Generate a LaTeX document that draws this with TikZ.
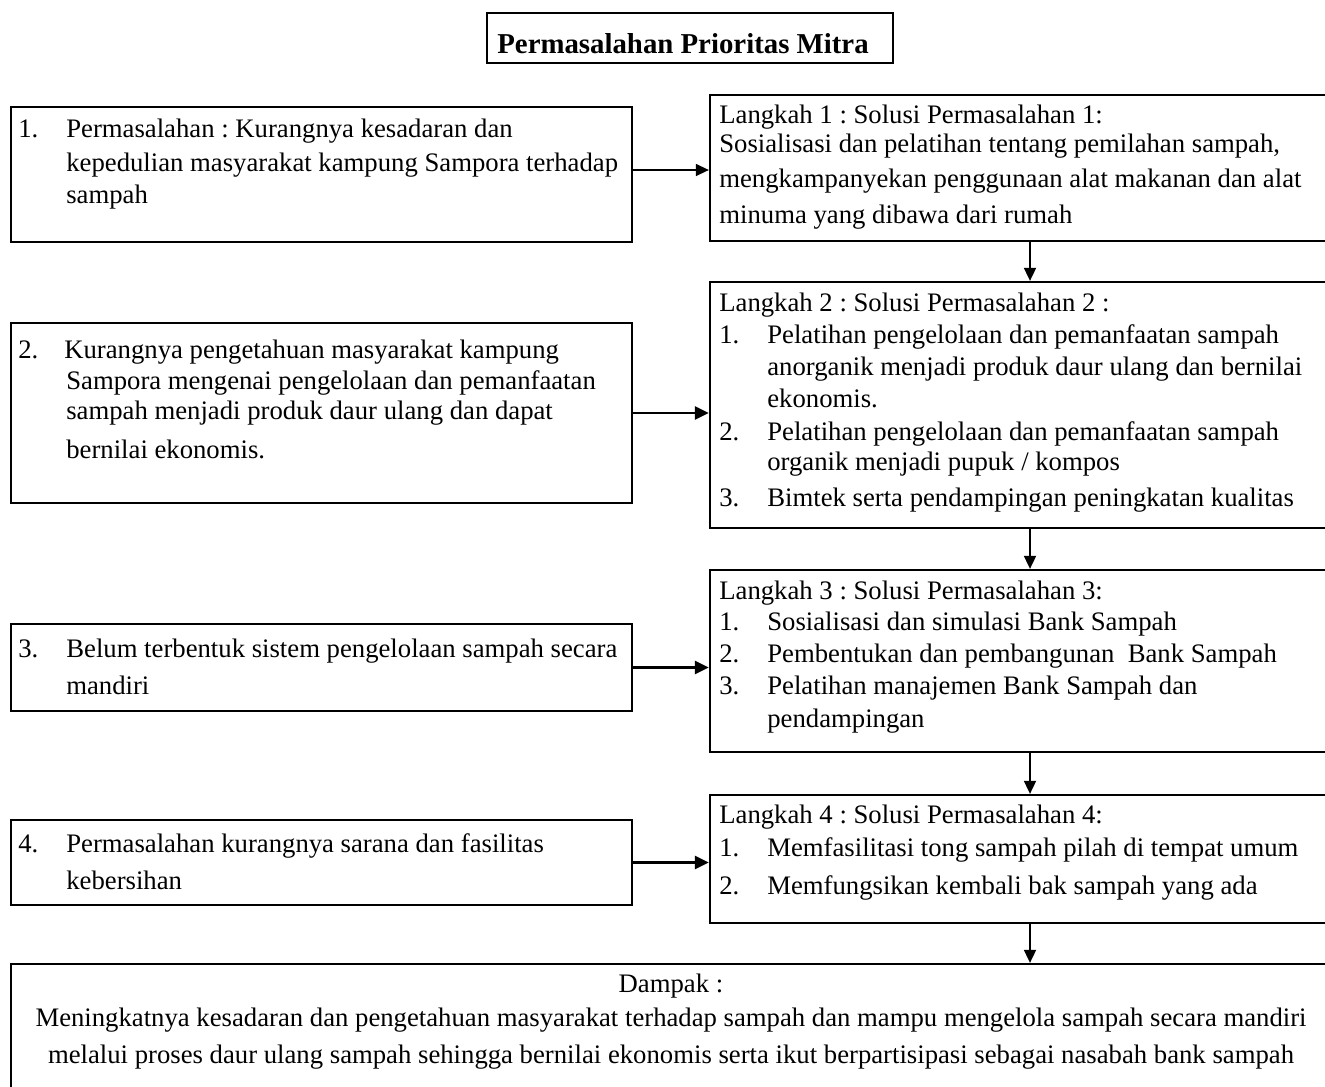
\documentclass[tikz,border=0pt]{standalone}
\usepackage{fontspec}
\setmainfont{Liberation Serif}
\usetikzlibrary{arrows.meta,positioning,fit}
\tikzset{
  box/.style={draw=black, line width=1.3pt, inner sep=0pt},
  txt/.style={anchor=base west, align=flush left, text width=13cm, inner sep=0pt, font=\fontsize{15.2}{18.2}\selectfont\frenchspacing},
  flow/.style={-{Triangle[length=2.8mm,width=2.6mm]}, line width=1.4pt},
  thinflow/.style={-{Triangle[length=2.6mm,width=2.4mm]}, line width=0.8pt}
}
\newcommand{\nr}[1]{\makebox[0.96cm][l]{#1}}
\newcommand{\hang}{\hspace*{0.96cm}}

\begin{document}
\begin{tikzpicture}[x=0.02cm, y=-0.02cm]
  \clip (0,0) rectangle (1325,1086);
  % title
  \node[box, fit={(487,13) (893,63)}] (title) {};
  \node[txt, text width=, align=left, font=\fontsize{16.4}{20}\selectfont\bfseries] at (497,53) {Permasalahan Prioritas Mitra};

  % problems (left column)
  \node[box, fit={(11,107) (632,242)}] (p1) {};
  \node[txt] at (18,137) {\nr{1.}Permasalahan : Kurangnya kesadaran dan\\[0.06cm]
    \hang kepedulian masyarakat kampung Sampora terhadap\\
    \hang sampah};
  \node[box, fit={(11,323) (632,503)}] (p2) {};
  \node[txt] at (18,358) {\makebox[0.92cm][l]{2.}Kurangnya pengetahuan masyarakat kampung\\
    \hang Sampora mengenai pengelolaan dan pemanfaatan\\[-0.04cm]
    \hang sampah menjadi produk daur ulang dan dapat\\[0.14cm]
    \hang bernilai ekonomis.};
  \node[box, fit={(11,624) (632,711)}] (p3) {};
  \node[txt] at (18,657) {\nr{3.}Belum terbentuk sistem pengelolaan sampah secara\\[0.12cm]
    \hang mandiri};
  \node[box, fit={(11,820) (632,905)}] (p4) {};
  \node[txt] at (18,852) {\nr{4.}Permasalahan kurangnya sarana dan fasilitas\\[0.12cm]
    \hang kebersihan};

  % solutions (right column)
  \node[box, fit={(710,95) (1350,241)}] (s1) {};
  \node[txt] at (719,123) {Langkah 1 : Solusi Permasalahan 1:\\[-0.04cm]
    Sosialisasi dan pelatihan tentang pemilahan sampah,\\[0.06cm]
    mengkampanyekan penggunaan alat makanan dan alat\\[0.08cm]
    minuma yang dibawa dari rumah};
  \node[box, fit={(710,282) (1350,528)}] (s2) {};
  \node[txt] at (719,311) {Langkah 2 : Solusi Permasalahan 2 :\\[0.02cm]
    \nr{1.}Pelatihan pengelolaan dan pemanfaatan sampah\\
    \hang anorganik menjadi produk daur ulang dan bernilai\\
    \hang ekonomis.\\[0.02cm]
    \nr{2.}Pelatihan pengelolaan dan pemanfaatan sampah\\[-0.04cm]
    \hang organik menjadi pupuk / kompos\\[0.08cm]
    \nr{3.}Bimtek serta pendampingan peningkatan kualitas};
  \node[box, fit={(710,570) (1350,752)}] (s3) {};
  \node[txt] at (719,599) {Langkah 3 : Solusi Permasalahan 3:\\
    \nr{1.}Sosialisasi dan simulasi Bank Sampah\\
    \nr{2.}Pembentukan dan pembangunan\ \ Bank Sampah\\
    \nr{3.}Pelatihan manajemen Bank Sampah dan\\[0.02cm]
    \hang pendampingan};
  \node[box, fit={(710,795) (1350,923)}] (s4) {};
  \node[txt] at (719,823) {Langkah 4 : Solusi Permasalahan 4:\\[0.04cm]
    \nr{1.}Memfasilitasi tong sampah pilah di tempat umum\\[0.12cm]
    \nr{2.}Memfungsikan kembali bak sampah yang ada};

  % impact
  \node[box, fit={(11,964) (1350,1100)}] (dampak) {};
  \node[txt, anchor=base, align=flush center, text width=26.4cm] at (671,992) {Dampak :\\[0.06cm]
    Meningkatnya kesadaran dan pengetahuan masyarakat terhadap sampah dan mampu mengelola sampah secara mandiri\\[0.1cm]
    melalui proses daur ulang sampah sehingga bernilai ekonomis serta ikut berpartisipasi sebagai nasabah bank sampah};

  % connectors
  \draw[thinflow] ([yshift=0.09cm]p1.east) -- ([yshift=0.09cm]p1.east -| s1.west);
  \draw[flow] (p2.east) -- (p2.east -| s2.west);
  \draw[flow] (p3.east) -- (p3.east -| s3.west);
  \draw[flow] (p4.east) -- (p4.east -| s4.west);
  \draw[thinflow, line width=1pt] (s1) -- (s2);
  \draw[thinflow, line width=1pt] (s2) -- (s3);
  \draw[thinflow, line width=1pt] (s3) -- (s4);
  \draw[thinflow, line width=1pt] (s4.south) -- (s4.south |- dampak.north);
\end{tikzpicture}
\end{document}
